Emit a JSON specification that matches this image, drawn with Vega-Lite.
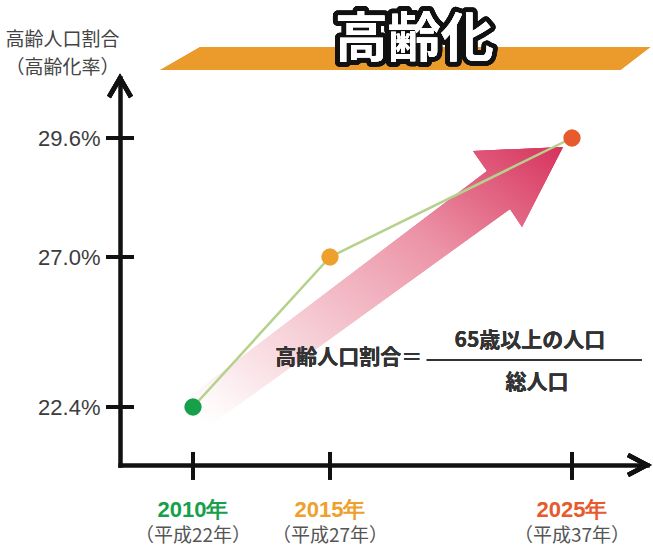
{
  "$schema": "https://vega.github.io/schema/vega-lite/v6.json",
  "autosize": {"type": "none"},
  "padding": {"left": 120, "top": 0, "right": 0, "bottom": 87},
  "width": 533,
  "height": 465,
  "background": "white",
  "config": {"view": {"stroke": null}},
  "datasets": {
    "pts": [
      {"year": 2010, "rate": 22.4, "label": "2010年", "era": "（平成22年）"},
      {"year": 2015, "rate": 27.0, "label": "2015年", "era": "（平成27年）"},
      {"year": 2025, "rate": 29.6, "label": "2025年", "era": "（平成37年）"}
    ]
  },
  "data": {"name": "pts"},
  "layer": [
    {
      "mark": {"type": "point", "shape": "M-252,10.5 L-212,-12.5 L238,-12.5 L208,10.5 Z", "size": 4, "filled": true, "fill": "#EA9B2B", "strokeWidth": 0, "opacity": 1},
      "encoding": {
        "x": {"datum": 2018.4, "type": "quantitative"},
        "y": {"datum": 31.3, "type": "quantitative"}
      }
    },
    {
      "mark": {"type": "text", "text": "高齢化", "font": "Noto Sans CJK JP", "fontWeight": "bold", "fontSize": 53, "align": "center", "baseline": "middle", "fill": "#111", "stroke": "#111", "strokeWidth": 10, "strokeJoin": "round"},
      "encoding": {
        "x": {"datum": 2018.48, "type": "quantitative"},
        "y": {"datum": 31.71, "type": "quantitative"}
      }
    },
    {
      "mark": {"type": "text", "text": "高齢化", "font": "Noto Sans CJK JP", "fontWeight": "bold", "fontSize": 53, "align": "center", "baseline": "middle", "fill": "white"},
      "encoding": {
        "x": {"datum": 2018.48, "type": "quantitative"},
        "y": {"datum": 31.71, "type": "quantitative"}
      }
    },
    {
      "mark": {"type": "point", "shape": "M-9,9 L-50,89 L-62,71 L-367,291 L-382,258 L-85,33 L-99,13 Z", "size": 4, "filled": true, "strokeWidth": 0, "opacity": 1,
        "fill": {"gradient": "linear", "x1": 0, "y1": 1, "x2": 1, "y2": 0, "stops": [
          {"offset": 0, "color": "rgba(255,255,255,0)"},
          {"offset": 0.3, "color": "#f7d3da"},
          {"offset": 0.65, "color": "#ec94a7"},
          {"offset": 1, "color": "#d7325c"}
        ]}},
      "encoding": {
        "x": {"datum": 2025, "type": "quantitative"},
        "y": {"datum": 29.6, "type": "quantitative"}
      }
    },
    {
      "mark": {"type": "line", "color": "#b5d18c", "strokeWidth": 2.5},
      "encoding": {
        "x": {"field": "year", "type": "quantitative",
          "scale": {"domain": [2007.3, 2010, 2015, 2025, 2027.8], "range": [0, 73, 210, 452, 527], "zero": false, "nice": false},
          "axis": {"title": null, "labels": false, "ticks": false, "grid": false, "domainColor": "#111", "domainWidth": 4.5, "domainCap": "square"}},
        "y": {"field": "rate", "type": "quantitative",
          "scale": {"domain": [20.6, 22.4, 27.0, 29.6, 30.9], "range": [465, 407, 257, 138, 78], "zero": false, "nice": false},
          "axis": {"values": [22.4, 27.0, 29.6], "labelExpr": "format(datum.value, '.1f') + '%'", "ticks": false, "grid": false,
            "labelPadding": 20, "labelFont": "Liberation Sans", "labelFontSize": 22, "labelColor": "#3c3c3c",
            "domainColor": "#111", "domainWidth": 4.5, "domainCap": "square",
            "title": ["高齢人口割合", "（高齢化率）"], "titleAngle": 0, "titleX": -58, "titleY": 30, "titleAlign": "center", "titleBaseline": "top",
            "titleFont": "Noto Sans CJK JP", "titleFontSize": 19, "titleFontWeight": "normal", "titleColor": "#444", "titleLineHeight": 28}}
      }
    },
    {
      "mark": {"type": "point", "filled": true, "size": 300, "opacity": 1, "strokeWidth": 0},
      "encoding": {
        "x": {"field": "year", "type": "quantitative"},
        "y": {"field": "rate", "type": "quantitative"},
        "color": {"field": "label", "type": "nominal", "scale": {"domain": ["2010年", "2015年", "2025年"], "range": ["#16a04a", "#eda02c", "#e65a2e"]}, "legend": null}
      }
    },
    {
      "mark": {"type": "tick", "orient": "horizontal", "size": 28, "thickness": 4, "color": "#111", "opacity": 1},
      "encoding": {
        "x": {"datum": 2007.3, "type": "quantitative"},
        "y": {"field": "rate", "type": "quantitative"}
      }
    },
    {
      "mark": {"type": "tick", "orient": "vertical", "size": 28, "thickness": 4, "color": "#111", "opacity": 1},
      "encoding": {
        "x": {"field": "year", "type": "quantitative"},
        "y": {"datum": 20.57, "type": "quantitative"}
      }
    },
    {
      "mark": {"type": "point", "shape": "M-11,19 L0,0 L11,19", "size": 4, "filled": false, "stroke": "#111", "strokeWidth": 4.5, "opacity": 1},
      "encoding": {
        "x": {"datum": 2007.3, "type": "quantitative"},
        "y": {"datum": 30.9, "type": "quantitative"}
      }
    },
    {
      "mark": {"type": "point", "shape": "M-19,-10 L0,0 L-19,10", "size": 4, "filled": false, "stroke": "#111", "strokeWidth": 4.5, "opacity": 1},
      "encoding": {
        "x": {"datum": 2027.8, "type": "quantitative"},
        "y": {"datum": 20.6, "type": "quantitative"}
      }
    },
    {
      "mark": {"type": "text", "text": "高齢人口割合＝", "font": "Noto Sans CJK JP", "fontWeight": "bold", "fontSize": 21, "align": "left", "baseline": "middle", "color": "#333"},
      "encoding": {
        "x": {"datum": 2013.0, "type": "quantitative"},
        "y": {"datum": 23.9, "type": "quantitative"}
      }
    },
    {
      "mark": {"type": "rule", "color": "#333", "strokeWidth": 2},
      "encoding": {
        "x": {"datum": 2019.0, "type": "quantitative"},
        "x2": {"datum": 2027.6},
        "y": {"datum": 23.84, "type": "quantitative"}
      }
    },
    {
      "mark": {"type": "text", "text": "65歳以上の人口", "font": "Noto Sans CJK JP", "fontWeight": "bold", "fontSize": 21, "align": "center", "baseline": "middle", "color": "#333"},
      "encoding": {
        "x": {"datum": 2023.26, "type": "quantitative"},
        "y": {"datum": 24.42, "type": "quantitative"}
      }
    },
    {
      "mark": {"type": "text", "text": "総人口", "font": "Noto Sans CJK JP", "fontWeight": "bold", "fontSize": 21, "align": "center", "baseline": "middle", "color": "#333"},
      "encoding": {
        "x": {"datum": 2023.55, "type": "quantitative"},
        "y": {"datum": 23.14, "type": "quantitative"}
      }
    },
    {
      "mark": {"type": "text", "font": "Liberation Sans", "fontWeight": "bold", "fontSize": 22, "align": "center", "baseline": "middle"},
      "encoding": {
        "x": {"field": "year", "type": "quantitative"},
        "y": {"datum": 19.2, "type": "quantitative"},
        "text": {"field": "label"},
        "color": {"field": "label", "type": "nominal", "legend": null}
      }
    },
    {
      "mark": {"type": "text", "font": "Noto Sans CJK JP", "fontSize": 19, "align": "center", "baseline": "middle", "color": "#555"},
      "encoding": {
        "x": {"field": "year", "type": "quantitative"},
        "y": {"datum": 18.4, "type": "quantitative"},
        "text": {"field": "era"}
      }
    }
  ]
}
